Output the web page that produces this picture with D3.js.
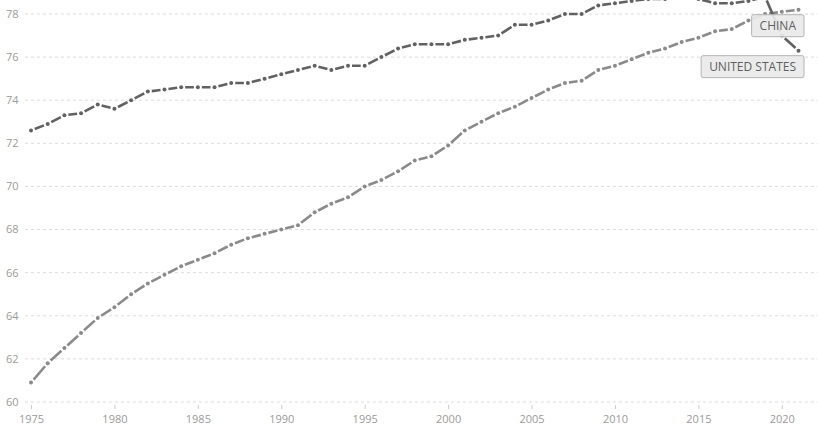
<!DOCTYPE html>
<html>
<head>
<meta charset="utf-8">
<script src="https://cdn.jsdelivr.net/npm/d3@7"></script>
<style>
  body { margin: 0; background: #fff; }
  svg { display: block; font-family: "Open Sans", sans-serif; }
</style>
</head>
<body>
<svg id="chart" width="818" height="426"></svg>
<script>
const years = d3.range(1975, 2022);

const unitedStates = [
  72.6, 72.9, 73.3, 73.4, 73.8, 73.6, 74.0, 74.4, 74.5, 74.6,
  74.6, 74.6, 74.8, 74.8, 75.0, 75.2, 75.4, 75.6, 75.4, 75.6,
  75.6, 76.0, 76.4, 76.6, 76.6, 76.6, 76.8, 76.9, 77.0, 77.5,
  77.5, 77.7, 78.0, 78.0, 78.4, 78.5, 78.6, 78.7, 78.7, 78.8,
  78.7, 78.5, 78.5, 78.6, 78.8, 77.0, 76.3
];

const china = [
  60.9, 61.8, 62.5, 63.2, 63.9, 64.4, 65.0, 65.5, 65.9, 66.3,
  66.6, 66.9, 67.3, 67.6, 67.8, 68.0, 68.2, 68.8, 69.2, 69.5,
  70.0, 70.3, 70.7, 71.2, 71.4, 71.9, 72.6, 73.0, 73.4, 73.7,
  74.1, 74.5, 74.8, 74.9, 75.4, 75.6, 75.9, 76.2, 76.4, 76.7,
  76.9, 77.2, 77.3, 77.7, 78.0, 78.1, 78.2
];

const yTicks = [60, 62, 64, 66, 68, 70, 72, 74, 76, 78];
const xTicks = [1975, 1980, 1985, 1990, 1995, 2000, 2005, 2010, 2015, 2020];

const series = [
  { name: 'CHINA', values: china, color: '#8a8a8a' },
  { name: 'UNITED STATES', values: unitedStates, color: '#616161' }
];

const svg = d3.select('#chart');
const width = 818;

const x = d3.scaleLinear().domain([1975, 2021]).range([31, 798.5]);
const y = d3.scaleLinear().domain([60, 78]).range([402, 14]);

// gridlines
svg.append('g')
  .selectAll('line')
  .data(yTicks)
  .enter()
  .append('line')
  .attr('x1', 25)
  .attr('x2', width)
  .attr('y1', (d) => y(d))
  .attr('y2', (d) => y(d))
  .attr('stroke', '#dcdcdc')
  .attr('stroke-width', 1)
  .attr('stroke-dasharray', '3,3');

// y labels
svg.append('g')
  .selectAll('text')
  .data(yTicks)
  .enter()
  .append('text')
  .attr('x', 6)
  .attr('y', (d) => y(d))
  .attr('dy', '0.35em')
  .attr('fill', '#9a9a9a')
  .style('font-size', '11px')
  .text((d) => d);

// x axis (ticks + labels)
const xAxis = svg.append('g')
  .attr('transform', `translate(0,${y(60) + 3})`)
  .call(d3.axisBottom(x).tickValues(xTicks).tickFormat(d3.format('d')).tickSize(4).tickPadding(6));
xAxis.select('.domain').remove();
xAxis.selectAll('line').attr('stroke', '#cccccc');
xAxis.selectAll('text')
  .attr('fill', '#9a9a9a')
  .style('font-size', '11px')
  .style('font-family', '"Open Sans", sans-serif');

// lines: a dash between each pair of points, dots on the points
const gap = 4;
series.forEach((s) => {
  const pts = s.values.map((v, i) => [x(years[i]), y(v)]);
  const g = svg.append('g');

  g.selectAll('path')
    .data(d3.pairs(pts))
    .enter()
    .append('path')
    .attr('d', (d) => d3.line()(d))
    .attr('fill', 'none')
    .attr('stroke', s.color)
    .attr('stroke-width', 2.6)
    .attr('stroke-dasharray', (d) => {
      const len = Math.hypot(d[1][0] - d[0][0], d[1][1] - d[0][1]);
      return `0,${gap},${Math.max(len - 2 * gap, 0)},${gap}`;
    });

  g.selectAll('circle')
    .data(pts)
    .enter()
    .append('circle')
    .attr('cx', (d) => d[0])
    .attr('cy', (d) => d[1])
    .attr('r', 2)
    .attr('fill', s.color);
});

// end labels
series.forEach((s) => {
  const last = s.values[s.values.length - 1];
  const right = x(2021) + 5.5;
  const top = y(last) + 5;
  const g = svg.append('g');
  const rect = g.append('rect')
    .attr('y', top)
    .attr('height', 22)
    .attr('rx', 2)
    .attr('fill', '#e9e9e9')
    .attr('fill-opacity', 0.92)
    .attr('stroke', '#b4b4b4')
    .attr('stroke-width', 1);
  const txt = g.append('text')
    .attr('y', top + 11)
    .attr('dy', '0.35em')
    .attr('text-anchor', 'middle')
    .attr('fill', '#5f5f5f')
    .style('font-size', '12px')
    .text(s.name);
  const w = txt.node().getComputedTextLength() + 16;
  rect.attr('x', right - w).attr('width', w);
  txt.attr('x', right - w / 2);
});
</script>
</body>
</html>
